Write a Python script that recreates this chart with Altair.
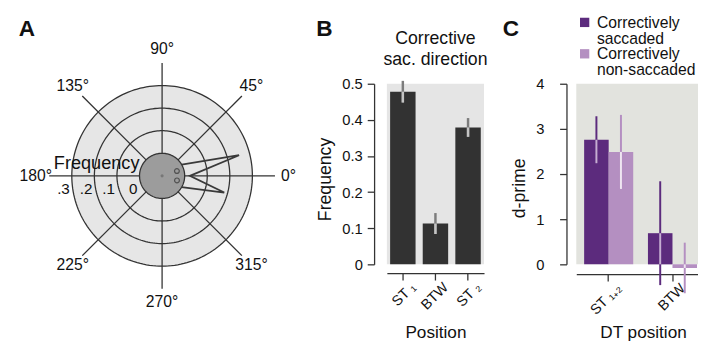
import altair as alt
import numpy as np
import pandas as pd

FONT = "Liberation Sans"
INK = "#333333"

# ---------------- Panel A : rose plot of corrective saccade direction ----------------
ring_freq = [0.1, 0.2, 0.3]
ring_labels = [".1", ".2", ".3"]
zero_label = "0"
spoke_angles = [0, 45, 90, 135, 180, 225, 270, 315]
spoke_labels = ["0°", "45°", "90°", "135°", "180°", "225°", "270°", "315°"]
rose_angle = [-30, -15, 0, 15, 30]
rose_freq = [0.0, 0.185, 0.023, 0.253, 0.0]
marker_angle = [18, -17]
marker_freq = [-0.031, -0.031]
HOLE = 0.1      # inner disk radius (frequency units)
SPOKE_F = 0.4   # spokes reach this frequency
LABEL_F = 0.46  # angle labels placed at this frequency

# ---------------- Panel B : corrective saccade direction ----------------
b_positions = ["ST \u2081", "BTW", "ST \u2082"]
b_freq = [0.478, 0.113, 0.379]
b_sem = [0.030, 0.029, 0.026]
b_title = ["Corrective", "sac. direction"]

# ---------------- Panel C : d-prime by DT position ----------------
c_positions = ["ST \u2081\u208a\u2082", "BTW"]
c_groups = ["Correctively saccaded", "Correctively non-saccaded"]
c_dprime_sacc = [2.76, 0.69]
c_dprime_nonsacc = [2.49, -0.08]
c_sem_sacc = [0.52, 1.15]
c_sem_nonsacc = [0.82, 0.56]

panel_letters = ["A", "B", "C"]

C_DARK, C_LIGHT = "#5c2b7d", "#b48fc1"
C_DARK_IN, C_LIGHT_IN = "#c6aed2", "#efe6f1"

# ---------- helpers ----------
A_X = alt.Scale(domain=[-0.4, 0.587], nice=False, zero=False)
A_Y = alt.Scale(domain=[-0.392, 0.408], nice=False, zero=False)


def polar(ch):
    return ch.transform_calculate(
        px=f"(datum.f + {HOLE}) * cos(datum.a * PI / 180)",
        py=f"(datum.f + {HOLE}) * sin(datum.a * PI / 180)",
        ny=f"-(datum.f + {HOLE}) * sin(datum.a * PI / 180)",
    )


AX = alt.X("px:Q", scale=A_X, axis=None)
AY = alt.Y("py:Q", scale=A_Y, axis=None)

half_circle = pd.DataFrame({"a": np.arange(0, 181, 2)})
full_circle = pd.DataFrame({"a": np.arange(0, 361, 2)})

outer_disk = polar(alt.Chart(half_circle).transform_calculate(f=str(max(ring_freq)))).mark_area(
    color="#e6e6e6").encode(x=AX, y=AY, y2="ny:Q")

rings_df = pd.DataFrame([(f, a) for f in ring_freq for a in full_circle["a"]], columns=["f", "a"])
rings = polar(alt.Chart(rings_df)).mark_line(color=INK, strokeWidth=1.3).encode(
    x=AX, y=AY, detail="f:N", order="a:Q")

spokes = polar(alt.Chart(pd.DataFrame({"a": spoke_angles})).transform_calculate(
    f=str(SPOKE_F), cx="0", cy="0")).mark_rule(color=INK, strokeWidth=1.3).encode(
    x=alt.X("cx:Q", scale=A_X, axis=None), y=alt.Y("cy:Q", scale=A_Y, axis=None),
    x2="px:Q", y2="py:Q")

hole_fill = polar(alt.Chart(half_circle).transform_calculate(f="0")).mark_area(
    color="#9c9c9c").encode(x=AX, y=AY, y2="ny:Q")
hole_line = polar(alt.Chart(full_circle).transform_calculate(f="0")).mark_line(
    color=INK, strokeWidth=1.3).encode(x=AX, y=AY, order="a:Q")

rose_df = pd.DataFrame({"a": rose_angle, "f": rose_freq, "i": range(len(rose_angle))})
rose = polar(alt.Chart(rose_df)).mark_line(color="#3a3a3a", strokeWidth=1.8).encode(
    x=AX, y=AY, order="i:Q")

markers = polar(alt.Chart(pd.DataFrame({"a": marker_angle, "f": marker_freq}))).mark_point(
    shape="circle", size=24, filled=False, color=INK, strokeWidth=1.2).encode(x=AX, y=AY)

center_dot = polar(alt.Chart(pd.DataFrame({"a": [0], "f": [-HOLE]}))).mark_point(
    shape="circle", size=10, filled=True, color="#777777", opacity=1).encode(x=AX, y=AY)

angle_lab = polar(alt.Chart(pd.DataFrame({"a": spoke_angles, "lab": spoke_labels})).transform_calculate(
    f=str(LABEL_F))).mark_text(font=FONT, fontSize=16, color="#111", align="center",
                               baseline="middle").encode(x=AX, y=AY, text="lab:N")

rad_df = pd.DataFrame({"f": [0.0] + ring_freq, "lab": [zero_label] + ring_labels, "a": 180})
rad_lab = polar(alt.Chart(rad_df)).mark_text(
    font=FONT, fontSize=15.5, color="#111", align="right", baseline="middle", dx=-2, dy=13).encode(
    x=AX, y=AY, text="lab:N")

freq_lab = polar(alt.Chart(pd.DataFrame({"a": [180], "f": [0.0], "lab": ["Frequency"]}))).mark_text(
    font=FONT, fontSize=18.5, color="#111", align="right", baseline="alphabetic", dy=-7).encode(
    x=AX, y=AY, text="lab:N")


def letter(ch, dx):
    return alt.Chart(pd.DataFrame({"t": [ch]})).mark_text(
        font=FONT, fontSize=23, fontWeight="bold", color="#111", align="left",
        baseline="alphabetic").encode(x=alt.value(dx), y=alt.value(-49), text="t:N")


panel_a = alt.layer(outer_disk, rings, spokes, hole_fill, hole_line, rose, markers, center_dot,
                    angle_lab, rad_lab, freq_lab, letter(panel_letters[0], -54)).properties(
    width=227, height=184)

# ---------- Panel B ----------
df_b = pd.DataFrame({"pos": b_positions, "freq": b_freq, "sem": b_sem})
b_calc = dict(lo="datum.freq - datum.sem", hi="datum.freq + datum.sem",
              in_lo="max(datum.freq - datum.sem, min(0, datum.freq))",
              in_hi="min(datum.freq + datum.sem, max(0, datum.freq))")
XB_SCALE = alt.Scale(paddingInner=0.22, paddingOuter=0.1)
YB_SCALE = alt.Scale(domain=[0, 0.5], nice=False)
xb_axis = alt.Axis(title="Position", labelAngle=-45, labelAlign="right", labelBaseline="top",
                   offset=9, tickSize=7, labelPadding=0, labelOffset=6, labelFontSize=14.5,
                   titleFontSize=17.5, titleBaseline="alphabetic", titleY=66)
yb_axis = alt.Axis(title="Frequency", values=[0, 0.1, 0.2, 0.3, 0.4, 0.5],
                   labelExpr="datum.value == 0 ? '0' : format(datum.value, '.1f')",
                   offset=13, tickSize=7, labelPadding=5, labelFontSize=15,
                   titleFontSize=18, titlePadding=8, titleY=97)
XB = alt.X("pos:N", sort=b_positions, scale=XB_SCALE, axis=xb_axis)

b_bars = alt.Chart(df_b).mark_bar(color="#323232").encode(
    x=XB, y=alt.Y("freq:Q", scale=YB_SCALE, axis=yb_axis))
b_err = alt.Chart(df_b).transform_calculate(**b_calc).mark_rule(color="#7c7c7c", strokeWidth=2.5).encode(
    x=XB, y=alt.Y("lo:Q", scale=YB_SCALE, axis=yb_axis), y2="hi:Q")
b_err_in = alt.Chart(df_b).transform_calculate(**b_calc).mark_rule(color="#c4c4c4", strokeWidth=2.5).encode(
    x=XB, y=alt.Y("in_lo:Q", scale=YB_SCALE, axis=yb_axis), y2="in_hi:Q")
b_head = alt.Chart(pd.DataFrame({"t": ["\n".join(b_title)]})).mark_text(
    font=FONT, fontSize=18, color="#111", align="center", baseline="alphabetic",
    lineBreak="\n", lineHeight=21).encode(x=alt.value(49.5), y=alt.value(-40), text="t:N")

panel_b = alt.layer(b_bars, b_err, b_err_in, b_head, letter(panel_letters[1], -72)).properties(
    width=99, height=184, view=alt.ViewBackground(fill="#e5e5e5", strokeWidth=0))

# ---------- Panel C ----------
df_c = pd.DataFrame({
    "pos": c_positions * 2,
    "grp": [c_groups[0]] * 2 + [c_groups[1]] * 2,
    "d": c_dprime_sacc + c_dprime_nonsacc,
    "sem": c_sem_sacc + c_sem_nonsacc,
})
c_calc = dict(lo="datum.d - datum.sem", hi="datum.d + datum.sem",
              in_lo="max(datum.d - datum.sem, min(0, datum.d))",
              in_hi="min(datum.d + datum.sem, max(0, datum.d))")
XC_SCALE = alt.Scale(paddingInner=0.2308, paddingOuter=0.0692, align=0.889)
XO_SCALE = alt.Scale(paddingInner=0, paddingOuter=0)
YC_SCALE = alt.Scale(domain=[0, 4], nice=False)
xc_axis = alt.Axis(title="DT position", labelAngle=-45, labelAlign="right", labelBaseline="top",
                   offset=10, tickSize=7, labelPadding=0, labelOffset=6, labelFontSize=14.5,
                   titleFontSize=17.5, titleBaseline="alphabetic", titleY=65, titleX=68)
yc_axis = alt.Axis(title="d-prime", values=[0, 1, 2, 3, 4], format="d", offset=10, tickSize=7,
                   labelPadding=16, labelFontSize=15, titleFontSize=18, titlePadding=7, titleY=106)
col_scale = alt.Scale(domain=c_groups, range=[C_DARK, C_LIGHT])
in_scale = alt.Scale(domain=c_groups, range=[C_DARK_IN, C_LIGHT_IN])
XC = alt.X("pos:N", sort=c_positions, scale=XC_SCALE, axis=xc_axis)
XO = alt.XOffset("grp:N", sort=c_groups, scale=XO_SCALE)

c_bars = alt.Chart(df_c).mark_bar().encode(
    x=XC, xOffset=XO, y=alt.Y("d:Q", scale=YC_SCALE, axis=yc_axis),
    color=alt.Color("grp:N", scale=col_scale, legend=None))
c_err = alt.Chart(df_c).transform_calculate(**c_calc).mark_rule(strokeWidth=2).encode(
    x=XC, xOffset=XO, y=alt.Y("lo:Q", scale=YC_SCALE, axis=yc_axis), y2="hi:Q",
    color=alt.Color("grp:N", scale=col_scale, legend=None))
c_err_in = alt.Chart(df_c).transform_calculate(**c_calc).mark_rule(strokeWidth=2).encode(
    x=XC, xOffset=XO, y=alt.Y("in_lo:Q", scale=YC_SCALE, axis=yc_axis), y2="in_hi:Q",
    stroke=alt.Stroke("grp:N", scale=in_scale, legend=None))

legend_layers = []
for i, (g, col) in enumerate(zip(c_groups, [C_DARK, C_LIGHT])):
    legend_layers.append(alt.Chart(pd.DataFrame({"g": [g]})).mark_square(
        size=90, color=col, opacity=1).encode(x=alt.value(8.5), y=alt.value(-62.5 + 32 * i)))
    legend_layers.append(alt.Chart(pd.DataFrame({"g": [g.replace(" ", "\n", 1)]})).mark_text(
        font=FONT, fontSize=16, color="#111", align="left", baseline="alphabetic",
        lineBreak="\n", lineHeight=16).encode(
        x=alt.value(21), y=alt.value(-57 + 32 * i), text="g:N"))

panel_c = alt.layer(c_bars, c_err, c_err_in, *legend_layers, letter(panel_letters[2], -75)).properties(
    width=124, height=184, view=alt.ViewBackground(fill="#e2e3de", strokeWidth=0))

chart = alt.hconcat(panel_a, panel_b, panel_c, spacing=94, bounds="flush").properties(
    padding={"left": 11, "top": 4, "right": 0, "bottom": 0}
).configure_view(strokeWidth=0).configure_axis(
    labelFont=FONT, titleFont=FONT, labelColor="#111", titleColor="#111",
    domainColor=INK, tickColor=INK, domainWidth=1.3, tickWidth=1.3, grid=False,
    titleFontWeight="normal")

chart.save("out.html", embed_options={"renderer": "svg", "actions": False})
